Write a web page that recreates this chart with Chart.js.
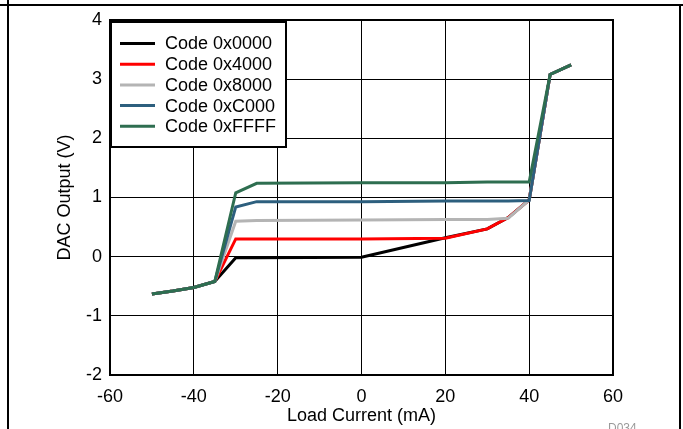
<!DOCTYPE html>
<html>
<head>
<meta charset="utf-8">
<script src="https://cdn.jsdelivr.net/npm/chart.js@4"></script>
<style>
  html, body { margin: 0; padding: 0; background: #fff; }
  #wrap { width: 683px; height: 429px; position: relative; }
</style>
</head>
<body>
<div id="wrap"><canvas id="dacChart" width="683" height="429"></canvas></div>
<script>
// valeurs (mA / V)
const loadCurrent = [-50, -45, -40, -35, -30, -25, 0, 20, 30, 35, 40, 45, 50];
const code0000 = [-0.63, -0.58, -0.52, -0.42, -0.02, -0.02, -0.01, 0.32, 0.47, 0.66, 0.96, 3.08, 3.24];
const code4000 = [-0.63, -0.58, -0.52, -0.42, 0.30, 0.30, 0.30, 0.31, 0.47, 0.66, 0.96, 3.08, 3.24];
const code8000 = [-0.63, -0.58, -0.52, -0.42, 0.60, 0.61, 0.62, 0.63, 0.63, 0.65, 0.96, 3.08, 3.24];
const codeC000 = [-0.63, -0.58, -0.52, -0.42, 0.84, 0.93, 0.93, 0.94, 0.94, 0.94, 0.95, 3.08, 3.24];
const codeFFFF = [-0.63, -0.58, -0.52, -0.42, 1.08, 1.24, 1.25, 1.25, 1.26, 1.26, 1.26, 3.08, 3.24];

const seriesNames = ['Code 0x0000', 'Code 0x4000', 'Code 0x8000', 'Code 0xC000', 'Code 0xFFFF'];
const seriesColors = ['#000000', '#ff0000', '#b4b4b4', '#2d5f7e', '#2e6e50'];
const xTicks = [-60, -40, -20, 0, 20, 40, 60];
const yTicks = [-2, -1, 0, 1, 2, 3, 4];

const FONT = '"Liberation Sans", Arial, sans-serif';

function toPoints(values) {
    return values.map((v, i) => ({ x: loadCurrent[i], y: v }));
}

const allSeries = [code0000, code4000, code8000, codeC000, codeFFFF];
const datasets = allSeries.map((vals, i) => ({
    label: seriesNames[i],
    data: toPoints(vals),
    borderColor: seriesColors[i],
    backgroundColor: seriesColors[i],
    borderWidth: 3,
    pointRadius: 0,
    tension: 0,
    order: allSeries.length - i   // le dernier (0xFFFF) au-dessus
}));

// cadre du graphe + cadre de la page
const frames = {
    id: 'frames',
    beforeDatasetsDraw(chart) {
        const { ctx, chartArea: a } = chart;
        ctx.save();
        ctx.strokeStyle = '#000';
        ctx.lineWidth = 2;
        ctx.strokeRect(a.left, a.top, a.right - a.left, a.bottom - a.top);
        ctx.restore();
    },
    afterDraw(chart) {
        const ctx = chart.ctx;
        ctx.save();
        ctx.strokeStyle = '#000';
        ctx.lineWidth = 2;
        ctx.beginPath();
        ctx.moveTo(0, 5); ctx.lineTo(683, 5);
        ctx.moveTo(8, 0); ctx.lineTo(8, 429);
        ctx.moveTo(680, 5); ctx.lineTo(680, 429);
        ctx.stroke();
        ctx.fillStyle = '#9a9a9a';
        ctx.font = '12px ' + FONT;
        ctx.textBaseline = 'alphabetic';
        ctx.fillText('D034', 608, 432);
        ctx.restore();
    }
};

// légende dans le coin haut gauche
const legendBox = {
    id: 'legendBox',
    afterDatasetsDraw(chart) {
        const { ctx, chartArea: a } = chart;
        const x0 = a.left + 1, y0 = a.top + 2, w = 175, h = 125;
        ctx.save();
        ctx.fillStyle = '#fff';
        ctx.fillRect(x0, y0, w, h);
        ctx.strokeStyle = '#000';
        ctx.lineWidth = 2;
        ctx.strokeRect(x0, y0, w, h);
        ctx.font = '18px ' + FONT;
        ctx.textBaseline = 'middle';
        chart.data.datasets.forEach((ds, i) => {
            const y = y0 + 21.5 + i * 20.7;
            ctx.strokeStyle = ds.borderColor;
            ctx.lineWidth = 3;
            ctx.beginPath();
            ctx.moveTo(x0 + 9, y);
            ctx.lineTo(x0 + 44, y);
            ctx.stroke();
            ctx.fillStyle = '#000';
            ctx.fillText(ds.label, x0 + 54, y + 1);
        });
        ctx.restore();
    }
};

new Chart(document.getElementById('dacChart').getContext('2d'), {
    type: 'line',
    data: { datasets },
    plugins: [frames, legendBox],
    options: {
        responsive: false,
        animation: false,
        layout: { padding: { left: 50, top: 20, right: 70, bottom: 0 } },
        plugins: { legend: { display: false }, tooltip: { enabled: false } },
        scales: {
            x: {
                type: 'linear',
                min: -60, max: 60,
                afterBuildTicks: (s) => { s.ticks = xTicks.map(v => ({ value: v })); },
                afterFit: (s) => { s.height = 54; },
                grid: { color: '#000', lineWidth: 1, drawTicks: false },
                border: { display: false },
                ticks: { color: '#000', font: { family: FONT, size: 18 }, padding: 11, maxRotation: 0 },
                title: { display: true, text: 'Load Current (mA)', color: '#000', font: { family: FONT, size: 18 }, padding: { top: 0, bottom: 2 } }
            },
            y: {
                type: 'linear',
                min: -2, max: 4,
                afterBuildTicks: (s) => { s.ticks = yTicks.map(v => ({ value: v })); },
                afterFit: (s) => { s.width = 60; },
                grid: { color: '#000', lineWidth: 1, drawTicks: false },
                border: { display: false },
                ticks: { color: '#000', font: { family: FONT, size: 18 }, padding: 8 },
                title: { display: true, text: 'DAC Output (V)', color: '#000', font: { family: FONT, size: 18 }, padding: { top: 4, bottom: 0 } }
            }
        }
    }
});
</script>
</body>
</html>
